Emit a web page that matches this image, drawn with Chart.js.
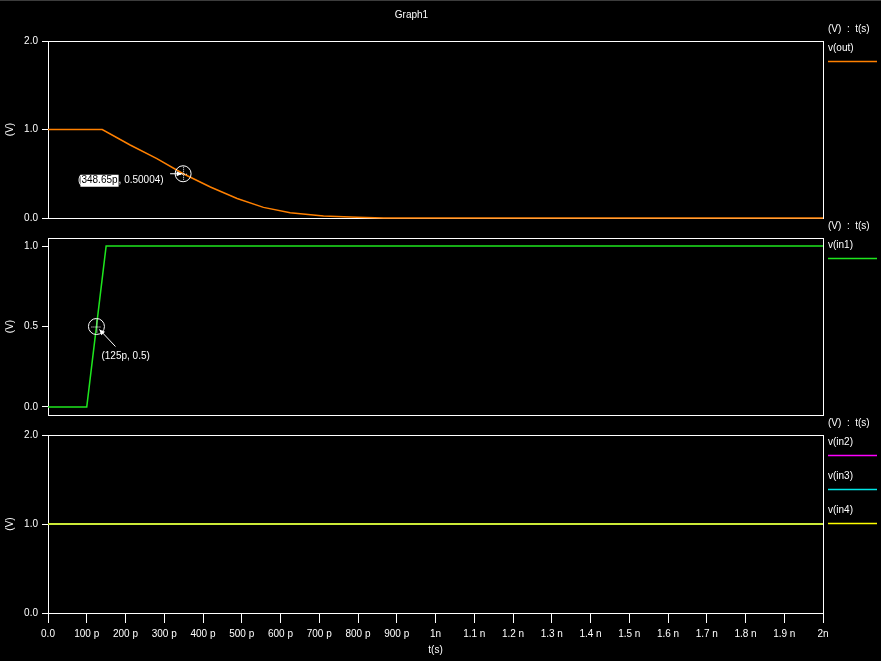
<!DOCTYPE html>
<html>
<head>
<meta charset="utf-8">
<title>Graph1</title>
<script src="https://cdn.jsdelivr.net/npm/chart.js@4.4.0/dist/chart.umd.min.js"></script>
<style>
  html, body { margin: 0; padding: 0; background: #000; }
  body { width: 881px; height: 661px; position: relative; overflow: hidden; }
  #topbar { position: absolute; left: 0; top: 0; width: 881px; height: 1px; background: #3c3c3c; }
  .panel { position: absolute; left: 0; width: 881px; }
</style>
</head>
<body>
<div id="topbar"></div>
<div class="panel" style="top:0;height:230px"><canvas id="c1"></canvas></div>
<div class="panel" style="top:218px;height:212px"><canvas id="c2"></canvas></div>
<div class="panel" style="top:415px;height:246px"><canvas id="c3"></canvas></div>
<script>
// time in ps, voltage in V
var outT = [0, 140, 212, 281, 349, 419, 488, 556, 625, 711, 798, 866, 2000];
var outV = [1.0, 1.0, 0.825, 0.67, 0.5, 0.35, 0.22, 0.12, 0.06, 0.023, 0.008, 0, 0];
var in1T = [0, 100, 150, 2000];
var in1V = [0, 0, 1, 1];
var in2T = [0, 2000], in2V = [1, 1];
var in3T = [0, 2000], in3V = [1, 1];
var in4T = [0, 2000], in4V = [1, 1];

var xTickVals = [0, 100, 200, 300, 400, 500, 600, 700, 800, 900, 1000, 1100, 1200, 1300, 1400, 1500, 1600, 1700, 1800, 1900, 2000];
var xTickLabels = ['0.0', '100 p', '200 p', '300 p', '400 p', '500 p', '600 p', '700 p', '800 p', '900 p', '1n',
                   '1.1 n', '1.2 n', '1.3 n', '1.4 n', '1.5 n', '1.6 n', '1.7 n', '1.8 n', '1.9 n', '2n'];
var yTicksWide = [0, 1, 2];
var yTicksMid = [0, 0.5, 1];

var outMarker = [348.65, 0.50004];
var in1Marker = [125, 0.5];

var FONT = '"Liberation Sans", Arial, sans-serif';
Chart.defaults.font.family = FONT;
Chart.defaults.font.size = 10;
Chart.defaults.color = '#fff';
Chart.defaults.animation = false;

function pts(t, v) {
    return t.map(function (x, i) { return { x: x, y: v[i] }; });
}

// order: lower number is drawn on top
function line(label, t, v, color, order) {
    return {
        label: label,
        data: pts(t, v),
        borderColor: color,
        backgroundColor: 'transparent',
        borderWidth: 1.5,
        pointRadius: 0,
        tension: 0,
        clip: 2,
        order: order || 0
    };
}

function xScale(show) {
    return {
        type: 'linear',
        min: 0,
        max: 2000,
        display: show,
        afterBuildTicks: function (s) { s.ticks = xTickVals.map(function (v) { return { value: v }; }); },
        afterFit: function (s) { if (show) s.height = 48; },
        border: { color: '#fff', width: 1 },
        grid: { drawOnChartArea: false, color: '#fff', tickLength: 10 },
        ticks: {
            color: '#fff', padding: 5, maxRotation: 0, autoSkip: false,
            callback: function (v, i) { return xTickLabels[i]; }
        },
        title: { display: show, text: 't(s)', color: '#fff', padding: { top: 0, bottom: 5 } }
    };
}

function yScale(min, max, ticks) {
    return {
        min: min,
        max: max,
        afterBuildTicks: function (s) { s.ticks = ticks.map(function (v) { return { value: v }; }); },
        afterFit: function (s) { s.width = 48; },
        border: { color: '#fff', width: 1 },
        grid: { drawOnChartArea: false, color: '#fff', tickLength: 6 },
        ticks: { color: '#fff', padding: 4, callback: function (v) { return Number(v).toFixed(1); } },
        title: { display: true, text: '(V)', color: '#fff', padding: { top: 4, bottom: 0 } }
    };
}

// white frame round the plot, under the traces
var frame = {
    id: 'frame',
    beforeDatasetsDraw: function (chart) {
        var a = chart.chartArea, ctx = chart.ctx;
        ctx.save();
        ctx.strokeStyle = '#fff';
        ctx.lineWidth = 1;
        ctx.strokeRect(Math.round(a.left) + 0.5, Math.round(a.top) + 0.5,
                       Math.round(a.right - a.left), Math.round(a.bottom - a.top));
        ctx.restore();
    }
};

// trace names down the right side
var sideLegend = {
    id: 'sideLegend',
    afterDraw: function (chart) {
        var a = chart.chartArea, ctx = chart.ctx;
        var x = a.right + 5;
        ctx.save();
        ctx.font = '10px ' + FONT;
        ctx.textBaseline = 'middle';
        ctx.fillStyle = '#fff';
        ctx.fillText('(V)  :  t(s)', x, a.top - 12);
        chart.data.datasets.forEach(function (ds, i) {
            var y = a.top + 34 * i;
            ctx.fillStyle = '#fff';
            ctx.fillText(ds.label, x, y + 7);
            ctx.strokeStyle = ds.borderColor;
            ctx.lineWidth = 1.5;
            ctx.beginPath();
            ctx.moveTo(x, y + 20.5);
            ctx.lineTo(x + 49, y + 20.5);
            ctx.stroke();
        });
        ctx.restore();
    }
};

function drawCircle(ctx, px, py) {
    ctx.strokeStyle = '#fff';
    ctx.lineWidth = 1;
    ctx.beginPath();
    ctx.arc(px, py, 8, 0, Math.PI * 2);
    ctx.stroke();
    ctx.setLineDash([1, 1]);
    ctx.beginPath();
    ctx.moveTo(px + 0.5, py - 7); ctx.lineTo(px + 0.5, py + 7);
    ctx.moveTo(px - 5, py + 0.5); ctx.lineTo(px + 5, py + 0.5);
    ctx.stroke();
    ctx.setLineDash([]);
}

function drawArrow(ctx, x0, y0, x1, y1) {
    var ang = Math.atan2(y1 - y0, x1 - x0);
    ctx.strokeStyle = '#fff';
    ctx.fillStyle = '#fff';
    ctx.lineWidth = 1;
    ctx.beginPath();
    ctx.moveTo(x0, y0); ctx.lineTo(x1, y1);
    ctx.stroke();
    ctx.beginPath();
    ctx.moveTo(x1, y1);
    ctx.lineTo(x1 - 6 * Math.cos(ang - 0.45), y1 - 6 * Math.sin(ang - 0.45));
    ctx.lineTo(x1 - 6 * Math.cos(ang + 0.45), y1 - 6 * Math.sin(ang + 0.45));
    ctx.closePath();
    ctx.fill();
}

var outCursor = {
    id: 'outCursor',
    afterDatasetsDraw: function (chart) {
        var ctx = chart.ctx;
        var px = chart.scales.x.getPixelForValue(outMarker[0]);
        var py = chart.scales.y.getPixelForValue(outMarker[1]);
        ctx.save();
        drawCircle(ctx, px, py);
        drawArrow(ctx, px - 13, py, px - 1, py);
        ctx.font = '10px ' + FONT;
        ctx.textBaseline = 'middle';
        var tx = px - 105, ty = py + 7;
        var sel = outMarker[0] + 'p';
        ctx.fillStyle = '#fff';
        ctx.fillText('(', tx, ty);
        var w0 = ctx.measureText('(').width;
        var w1 = ctx.measureText(sel).width;
        ctx.fillRect(tx + w0 - 1, ty - 6, w1 + 2, 12);
        ctx.fillStyle = '#000';
        ctx.fillText(sel, tx + w0, ty);
        ctx.fillStyle = '#fff';
        ctx.fillText(', ' + outMarker[1].toFixed(5) + ')', tx + w0 + w1 + 1, ty);
        ctx.restore();
    }
};

var in1Cursor = {
    id: 'in1Cursor',
    afterDatasetsDraw: function (chart) {
        var ctx = chart.ctx;
        var px = chart.scales.x.getPixelForValue(in1Marker[0]);
        var py = chart.scales.y.getPixelForValue(in1Marker[1]);
        ctx.save();
        drawCircle(ctx, px, py);
        drawArrow(ctx, px + 19, py + 20, px + 3, py + 3);
        ctx.font = '10px ' + FONT;
        ctx.textBaseline = 'middle';
        ctx.fillStyle = '#fff';
        ctx.fillText('(' + in1Marker[0] + 'p, ' + in1Marker[1] + ')', px + 5, py + 30);
        ctx.restore();
    }
};

new Chart(document.getElementById('c1'), {
    type: 'line',
    data: { datasets: [line('v(out)', outT, outV, '#ff8000')] },
    options: {
        responsive: true,
        maintainAspectRatio: false,
        layout: { padding: { top: 0, left: 0, right: 58, bottom: 12 } },
        plugins: {
            legend: { display: false },
            tooltip: { enabled: false },
            title: { display: true, text: 'Graph1', color: '#fff', font: { size: 10, weight: 'normal' }, padding: { top: 9, bottom: 20 } }
        },
        scales: { x: xScale(false), y: yScale(0, 2, yTicksWide) }
    },
    plugins: [frame, sideLegend, outCursor]
});

new Chart(document.getElementById('c2'), {
    type: 'line',
    data: { datasets: [line('v(in1)', in1T, in1V, '#1ee61e')] },
    options: {
        responsive: true,
        maintainAspectRatio: false,
        layout: { padding: { top: 20, left: 0, right: 58, bottom: 15 } },
        plugins: { legend: { display: false }, tooltip: { enabled: false } },
        scales: { x: xScale(false), y: yScale(-0.05, 1.05, yTicksMid) }
    },
    plugins: [frame, sideLegend, in1Cursor]
});

new Chart(document.getElementById('c3'), {
    type: 'line',
    data: {
        datasets: [
            line('v(in2)', in2T, in2V, '#ff00ff', 2),
            line('v(in3)', in3T, in3V, '#00e6e6', 1),
            line('v(in4)', in4T, in4V, '#ffff00', 0)
        ]
    },
    options: {
        responsive: true,
        maintainAspectRatio: false,
        layout: { padding: { top: 20, left: 0, right: 58, bottom: 0 } },
        plugins: { legend: { display: false }, tooltip: { enabled: false } },
        scales: { x: xScale(true), y: yScale(0, 2, yTicksWide) }
    },
    plugins: [frame, sideLegend]
});
</script>
</body>
</html>
